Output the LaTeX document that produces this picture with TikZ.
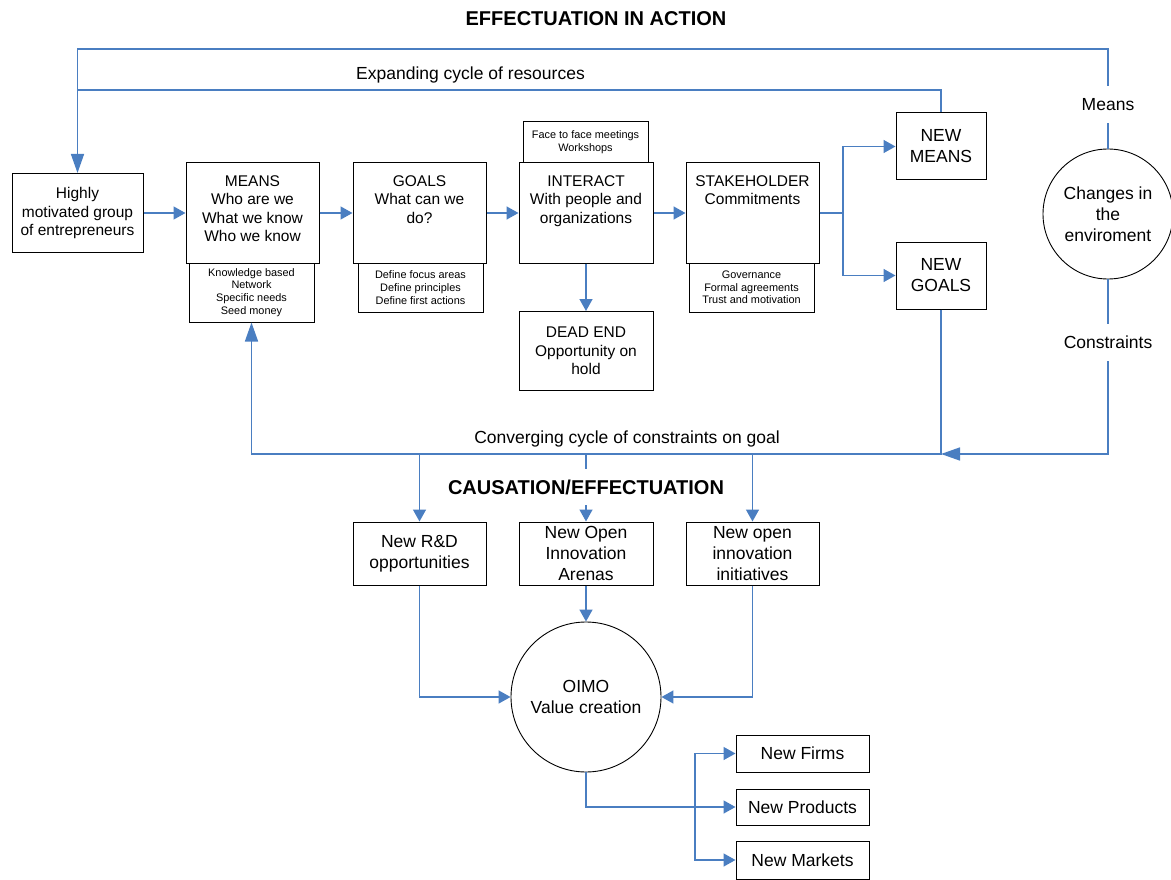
\documentclass[tikz,border=0pt]{standalone}
\usepackage{fontspec}
\setmainfont{Liberation Sans}
\usetikzlibrary{arrows.meta}
\definecolor{flowblue}{RGB}{74,126,193}
\newcommand\mainsz{\fontsize{15.5pt}{18.5pt}\selectfont}
\newcommand\largesz{\fontsize{17.5pt}{21pt}\selectfont}
\newcommand\notesz{\fontsize{10.9pt}{12.7pt}\selectfont}
\newcommand\headsz{\fontsize{20pt}{23pt}\selectfont\bfseries}
\begin{document}
\begin{tikzpicture}[x=1pt,y=-1pt,
  box/.style={draw=black, line width=1pt, fill=white, inner sep=0pt, align=center, rectangle},
  stepbox/.style={box, minimum width=133pt, minimum height=100pt, font=\mainsz},
  notebox/.style={box, minimum width=125pt, font=\notesz},
  bigbox/.style={box, font=\largesz},
  ring/.style={draw=black, line width=0.9pt, circle, fill=white, inner sep=0pt, align=center, font=\largesz},
  flow/.style={draw=flowblue, line width=1.5pt, -{Triangle[length=12pt,width=13pt]}},
  loopflow/.style={draw=flowblue, line width=1.5pt, -{Triangle[length=19pt,width=13pt]}},
  link/.style={draw=flowblue, line width=1.5pt},
  toptext/.style={anchor=north, yshift=-12.5pt, inner sep=0pt, align=center, font=\mainsz},
  caption/.style={inner sep=0pt, align=center}
]
\useasboundingbox (0,0) rectangle (1171,880);

% headings and cycle captions
\node[caption, font=\headsz] (title) at (596,19) {EFFECTUATION IN ACTION};
\node[caption, font=\largesz] (expand) at (470.5,75) {Expanding cycle of resources};
\node[caption, font=\largesz] (conv) at (627,439) {Converging cycle of constraints on goal};
\node[caption, font=\headsz, minimum height=36pt] (caus) at (586,487) {CAUSATION/EFFECTUATION};

% detail boxes beneath / above the main steps
\node[notebox, minimum height=59pt] (meanssub) at (251.5,292.5) {Knowledge based\\Network\\Specific needs\\Seed money};
\node[notebox, minimum height=49pt] (goalssub) at (420.5,287.5) {Define focus areas\\Define principles\\Define first actions};
\node[notebox, minimum height=41pt] (intertop) at (585.5,142.5) {Face to face meetings\\Workshops};
\node[notebox, minimum height=49pt] (stakesub) at (751.5,287.5) {Governance\\Formal agreements\\Trust and motivation};

% main process steps
\node[stepbox, minimum width=131pt, minimum height=79pt] (high) at (77.5,213) {Highly\\motivated group\\of entrepreneurs};
\node[stepbox, label={[toptext]north:MEANS\\Who are we\\What we know\\Who we know}] (means) at (252.5,213) {};
\node[stepbox, label={[toptext]north:GOALS\\What can we\\do?}] (goals) at (419.5,213) {};
\node[stepbox, minimum width=134pt, label={[toptext]north:INTERACT\\With people and\\organizations}] (interact) at (586,213) {};
\node[stepbox, label={[toptext]north:STAKEHOLDER\\Commitments}] (stake) at (752.5,213) {};
\node[stepbox, minimum width=134pt, minimum height=79pt] (deadend) at (586,351) {DEAD END\\Opportunity on\\hold};

% outcomes of commitments
\node[bigbox, minimum width=90pt, minimum height=67pt] (nmeans) at (941,146.5) {NEW\\MEANS};
\node[bigbox, minimum width=90pt, minimum height=67pt] (ngoals) at (941,275.5) {NEW\\GOALS};

% environment
\node[ring, minimum size=130pt] (env) at (1108,214) {Changes in\\the\\enviroment};
\node[caption, font=\largesz, minimum height=37pt] (meanslbl) at (1108,104.5) {Means};
\node[caption, font=\largesz, minimum height=37pt] (constr) at (1108,342.5) {Constraints};

% causation / effectuation results
\node[bigbox, minimum width=133pt, minimum height=63pt] (rd) at (419.5,553.5) {New R\&D\\opportunities};
\node[bigbox, minimum width=134pt, minimum height=63pt] (arenas) at (586,553.5) {New Open\\Innovation\\Arenas};
\node[bigbox, minimum width=133pt, minimum height=63pt] (init) at (752.5,553.5) {New open\\innovation\\initiatives};
\node[ring, minimum size=150pt] (oimo) at (586,697) {OIMO\\Value creation};
\node[bigbox, minimum width=133pt, minimum height=37pt] (firms) at (802.5,753.5) {New Firms};
\node[bigbox, minimum width=133pt, minimum height=36pt] (prod) at (802.5,807) {New Products};
\node[bigbox, minimum width=133pt, minimum height=38pt] (markets) at (802.5,860) {New Markets};

% main chain
\draw[flow] (high.east) -- (means.west);
\draw[flow] (means.east) -- (goals.west);
\draw[flow] (goals.east) -- (interact.west);
\draw[flow] (interact.east) -- (stake.west);
\draw[flow] (interact.south) -- (deadend.north);

% split into new means and new goals
\coordinate (br1) at (843,213);
\draw[link] (stake.east) -- (br1);
\draw[flow] (br1) |- (nmeans.west);
\draw[flow] (br1) |- (ngoals.west);

% expanding cycle and outer means loop
\coordinate (topR) at (1108,49);
\coordinate (expL) at (77,90);
\draw[loopflow] (meanslbl.north) -- (topR) -| (high.north);
\draw[link] (nmeans.north) |- (expL);
\draw[link] (env.north) -- (meanslbl.south);

% converging cycle of constraints
\coordinate (cv) at (941,454);
\draw[link] (env.south) -- (constr.north);
\draw[loopflow] (constr.south) |- (cv);
\draw[loopflow] (ngoals.south) -- (cv) -| (meanssub.south);

% drops into causation / effectuation
\draw[flow] (rd.north |- cv) -- (rd.north);
\draw[link] (arenas.north |- cv) -- (caus.north);
\draw[flow] (caus.south) -- (arenas.north);
\draw[flow] (init.north |- cv) -- (init.north);

% value creation
\draw[flow] (rd.south) |- (oimo.west);
\draw[flow] (arenas.south) -- (oimo.north);
\draw[flow] (init.south) |- (oimo.east);

% results
\coordinate (br2) at (695,807);
\draw[flow] (oimo.south) |- (prod.west);
\draw[flow] (br2) |- (firms.west);
\draw[flow] (br2) |- (markets.west);
\end{tikzpicture}
\end{document}
